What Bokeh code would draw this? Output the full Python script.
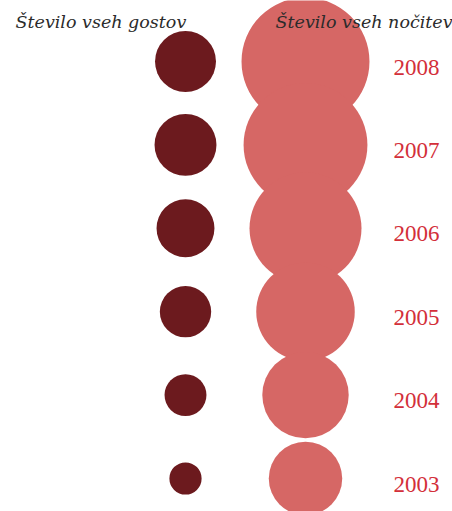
from bokeh.plotting import figure
from bokeh.models import Range1d, ColumnDataSource
from bokeh.core.properties import value
from bokeh.embed import file_html
from bokeh.resources import INLINE
import math

# ---- data ----
years = ["2008", "2007", "2006", "2005", "2004", "2003"]
guests = [93, 96, 84, 66, 44, 26]        # Število vseh gostov (relative)
nights = [410, 384, 314, 243, 187, 135]  # Število vseh nočitev (relative)
title_guests = "Število vseh gostov"
title_nights = "Število vseh nočitev"

W, H = 452, 511
p = figure(width=W, height=H, output_backend="svg", toolbar_location=None,
           x_range=Range1d(0, W), y_range=Range1d(H, 0),
           min_border=0, outline_line_color=None)
p.axis.visible = False
p.grid.visible = False
p.background_fill_color = "white"
p.border_fill_color = "white"

row0, step = 61.0, 83.4
k = 3.16  # px per sqrt(unit), area-proportional circles
ys = [row0 + i * step for i in range(len(years))]

src = ColumnDataSource(dict(
    y=ys,
    xg=[185] * len(years),
    xn=[305] * len(years),
    xl=[416] * len(years),
    yl=[y + 5.5 for y in ys],
    sg=[2 * k * math.sqrt(v) for v in guests],
    sn=[2 * k * math.sqrt(v) for v in nights],
    year=years,
))

p.scatter("xg", "y", size="sg", source=src, marker="circle",
          fill_color="#6c1a1e", line_color=None)
p.scatter("xn", "y", size="sn", source=src, marker="circle",
          fill_color="#d66765", line_color=None)

p.text("xl", "yl", text="year", source=src, text_align="center",
       text_baseline="alphabetic", text_color="#d32f3a",
       text_font=value("Liberation Serif"), text_font_size="23px")

p.text(x=[15], y=[21], text=[title_guests], text_align="left",
       text_baseline="alphabetic", text_color="#2b2b2b",
       text_font=value("DejaVu Serif"), text_font_style="italic",
       text_font_size="17.5px")
p.text(x=[275], y=[21], text=[title_nights], text_align="left",
       text_baseline="alphabetic", text_color="#2b2b2b",
       text_font=value("DejaVu Serif"), text_font_style="italic",
       text_font_size="17.5px")

open("out.html", "w").write(file_html(p, INLINE))
